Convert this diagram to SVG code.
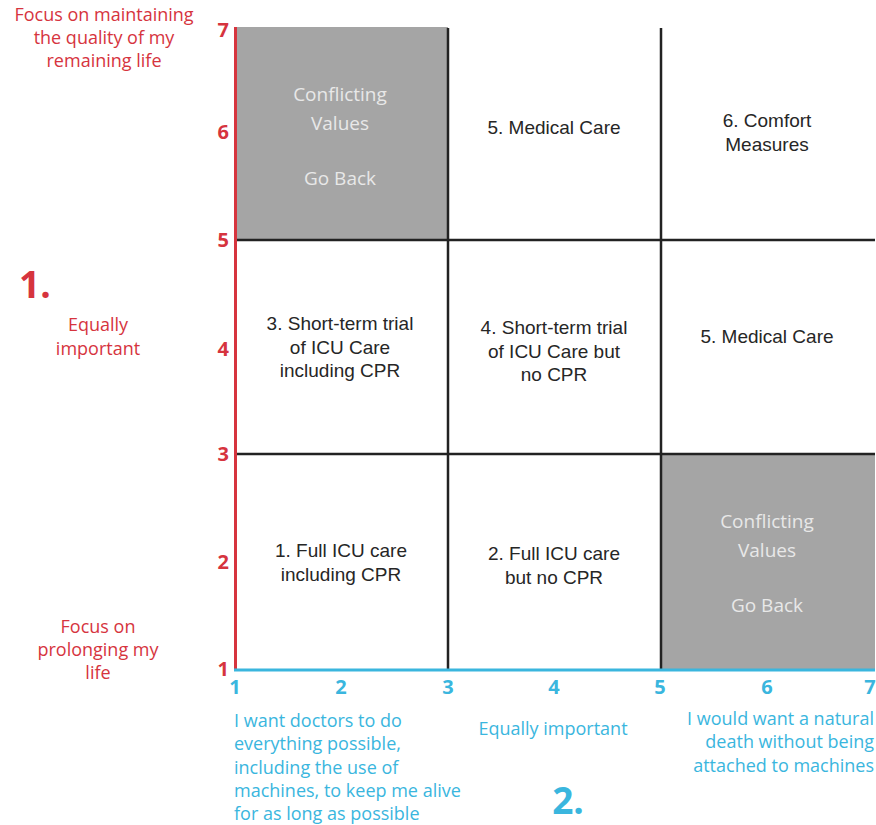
<svg xmlns="http://www.w3.org/2000/svg" width="876" height="825" viewBox="0 0 876 825">
  <style>
    .cell { font-family: "Liberation Sans", Arial, sans-serif; font-size: 19px; fill: #262626; text-anchor: middle; }
    .gray { fill: #a5a5a5; }
    .gtxt { font-family: "Open Sans", Lato, sans-serif; font-size: 19px; fill: #e8e8e8; text-anchor: middle; }
    .grid { stroke: #222; stroke-width: 2.5; fill: none; }
    .red { font-family: "Open Sans", Lato, sans-serif; fill: #d6343e; }
    .blue { font-family: "Open Sans", Lato, sans-serif; fill: #3ab6de; }
    .num { font-size: 20px; font-weight: bold; }
    .lbl { font-size: 18px; }
    .big { font-size: 37px; font-weight: bold; }
  </style>

  <!-- shaded cells -->
  <g id="cell-conflict-top">
    <rect class="gray" x="236" y="27" width="212" height="213"/>
    <text class="gtxt" x="340" y="101">Conflicting</text>
    <text class="gtxt" x="340" y="130">Values</text>
    <text class="gtxt" x="340" y="185">Go Back</text>
  </g>
  <g id="cell-conflict-bottom">
    <rect class="gray" x="661" y="454" width="214" height="215"/>
    <text class="gtxt" x="767" y="528">Conflicting</text>
    <text class="gtxt" x="767" y="557">Values</text>
    <text class="gtxt" x="767" y="612">Go Back</text>
  </g>

  <!-- grid lines -->
  <g id="connectors">
    <line class="grid" x1="448" y1="28" x2="448" y2="669"/>
    <line class="grid" x1="661" y1="28" x2="661" y2="669"/>
    <line class="grid" x1="236" y1="240" x2="875" y2="240"/>
    <line class="grid" x1="236" y1="454" x2="875" y2="454"/>
    <line x1="235.5" y1="27" x2="235.5" y2="670" stroke="#d6343e" stroke-width="3"/>
    <line x1="234" y1="670" x2="875" y2="670" stroke="#3ab6de" stroke-width="3"/>
  </g>

  <!-- cell labels -->
  <g id="cell-medical-top">
    <text class="cell" x="554" y="134">5. Medical Care</text>
  </g>
  <g id="cell-comfort">
    <text class="cell" x="767" y="127">6. Comfort</text>
    <text class="cell" x="767" y="151">Measures</text>
  </g>
  <g id="cell-trial-cpr">
    <text class="cell" x="340" y="330">3. Short-term trial</text>
    <text class="cell" x="340" y="354">of ICU Care</text>
    <text class="cell" x="340" y="377">including CPR</text>
  </g>
  <g id="cell-trial-nocpr">
    <text class="cell" x="554" y="334">4. Short-term trial</text>
    <text class="cell" x="554" y="358">of ICU Care but</text>
    <text class="cell" x="554" y="381">no CPR</text>
  </g>
  <g id="cell-medical-mid">
    <text class="cell" x="767" y="343">5. Medical Care</text>
  </g>
  <g id="cell-full-cpr">
    <text class="cell" x="341" y="557">1. Full ICU care</text>
    <text class="cell" x="341" y="581">including CPR</text>
  </g>
  <g id="cell-full-nocpr">
    <text class="cell" x="554" y="560">2. Full ICU care</text>
    <text class="cell" x="554" y="584">but no CPR</text>
  </g>

  <!-- vertical axis -->
  <g id="axis-y" class="red">
    <text class="num" x="229" y="37" text-anchor="end">7</text>
    <text class="num" x="229" y="139" text-anchor="end">6</text>
    <text class="num" x="229" y="247" text-anchor="end">5</text>
    <text class="num" x="229" y="356" text-anchor="end">4</text>
    <text class="num" x="229" y="461" text-anchor="end">3</text>
    <text class="num" x="229" y="569" text-anchor="end">2</text>
    <text class="num" x="229" y="676" text-anchor="end">1</text>
    <text class="lbl" x="104" y="21" text-anchor="middle">Focus on maintaining</text>
    <text class="lbl" x="104" y="44" text-anchor="middle">the quality of my</text>
    <text class="lbl" x="104" y="67" text-anchor="middle">remaining life</text>
    <text class="big" x="19" y="298">1.</text>
    <text class="lbl" x="98" y="331" text-anchor="middle">Equally</text>
    <text class="lbl" x="98" y="355" text-anchor="middle">important</text>
    <text class="lbl" x="98" y="633" text-anchor="middle">Focus on</text>
    <text class="lbl" x="98" y="656" text-anchor="middle">prolonging my</text>
    <text class="lbl" x="98" y="679" text-anchor="middle">life</text>
  </g>

  <!-- horizontal axis -->
  <g id="axis-x" class="blue">
    <text class="num" x="235" y="694" text-anchor="middle">1</text>
    <text class="num" x="341" y="694" text-anchor="middle">2</text>
    <text class="num" x="448" y="694" text-anchor="middle">3</text>
    <text class="num" x="554" y="694" text-anchor="middle">4</text>
    <text class="num" x="660" y="694" text-anchor="middle">5</text>
    <text class="num" x="767" y="694" text-anchor="middle">6</text>
    <text class="num" x="870" y="694" text-anchor="middle">7</text>
    <text class="lbl" x="234" y="727">I want doctors to do</text>
    <text class="lbl" x="234" y="750">everything possible,</text>
    <text class="lbl" x="234" y="774">including the use of</text>
    <text class="lbl" x="234" y="797">machines, to keep me alive</text>
    <text class="lbl" x="234" y="820">for as long as possible</text>
    <text class="lbl" x="553" y="735" text-anchor="middle">Equally important</text>
    <text class="lbl" x="874" y="725" text-anchor="end">I would want a natural</text>
    <text class="lbl" x="874" y="748" text-anchor="end">death without being</text>
    <text class="lbl" x="874" y="772" text-anchor="end">attached to machines</text>
    <text class="big" x="568" y="814" text-anchor="middle">2.</text>
  </g>
</svg>
